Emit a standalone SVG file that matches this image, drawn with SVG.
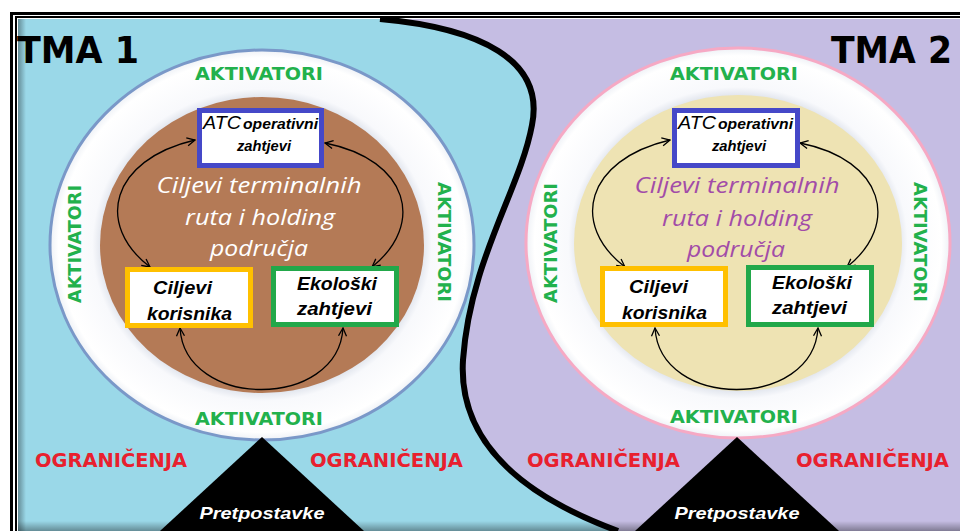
<svg xmlns="http://www.w3.org/2000/svg" width="960" height="531" viewBox="0 0 960 531">
<style>
.akt{font-family:"DejaVu Sans",sans-serif;font-weight:bold;font-size:18px;fill:#22B14C}
.ogr{font-family:"DejaVu Sans",sans-serif;font-weight:bold;font-size:19px;fill:#E8202E}
.tma{font-family:"DejaVu Sans",sans-serif;font-weight:bold;font-size:37px;fill:#000}
.box{fill:#fff;stroke-width:5}
.bt{font-family:"Liberation Sans",Arial,sans-serif;font-weight:bold;font-style:italic;font-size:18px;fill:#000}
.small{font-family:"Liberation Sans",Arial,sans-serif;font-weight:bold;font-style:italic;font-size:15px;fill:#000}
.atc{font-family:"Liberation Sans",Arial,sans-serif;font-style:italic;font-size:18px;fill:#000}
.ctr{font-family:"Open Sans","Liberation Sans",sans-serif;font-style:italic;font-size:22px}
.pre{font-family:"Liberation Sans",Arial,sans-serif;font-weight:bold;font-style:italic;font-size:17px;fill:#fff}
.con{fill:none;stroke:#000;stroke-width:1.3;marker-start:url(#ah);marker-end:url(#ah)}
</style>
<defs>
<marker id="ah" viewBox="0 0 10 10" refX="9" refY="5" markerWidth="10" markerHeight="10" markerUnits="userSpaceOnUse" orient="auto-start-reverse">
<path d="M1,1 L9,5 L1,9" fill="none" stroke="#000" stroke-width="1.3"/>
</marker>
<radialGradient id="ring">
<stop offset="0.74" stop-color="#D9DEE8"/>
<stop offset="0.80" stop-color="#F8F9FC"/>
<stop offset="0.96" stop-color="#FFFFFF"/>
<stop offset="1" stop-color="#EEF1F6"/>
</radialGradient>
<linearGradient id="shB" x1="0" y1="0" x2="0" y2="1">
<stop offset="0" stop-color="#000" stop-opacity="0"/>
<stop offset="1" stop-color="#000" stop-opacity="0.35"/>
</linearGradient>
<linearGradient id="shL" x1="0" y1="0" x2="1" y2="0">
<stop offset="0" stop-color="#000" stop-opacity="0.35"/>
<stop offset="1" stop-color="#000" stop-opacity="0"/>
</linearGradient>
</defs>

<g id="background">
<rect x="0" y="0" width="960" height="531" fill="#fff"/>
<rect x="18" y="19" width="942" height="512" fill="#C5BDE3"/>
<path d="M18,19 L380,19 C480,28 545,60 532,125 C520,190 470,260 463,360 C458,440 520,495 618,531 L18,531 Z" fill="#9AD8E8"/>
<rect x="18" y="521" width="942" height="10" fill="url(#shB)"/>
<rect x="18" y="19" width="8" height="512" fill="url(#shL)"/>
<path d="M380,19 C480,28 545,60 532,125 C520,190 470,260 463,360 C458,440 520,495 618,531" fill="none" stroke="#000" stroke-width="6"/>
<path d="M11.5,531 L11.5,13.5 L960,13.5" fill="none" stroke="#000" stroke-width="3"/>
<path d="M16,531 L16,17 L960,17" fill="none" stroke="#000" stroke-width="2"/>
</g>

<g id="tma1-label"><text class="tma" x="17" y="63" textLength="122" lengthAdjust="spacingAndGlyphs">TMA 1</text></g>
<g id="tma2-label"><text class="tma" x="831" y="63" textLength="121" lengthAdjust="spacingAndGlyphs">TMA 2</text></g>

<g id="tma1-ring">
<ellipse cx="262" cy="245" rx="212" ry="195" fill="url(#ring)" stroke="#7A98C8" stroke-width="3"/>
<ellipse cx="262" cy="245" rx="162" ry="148" fill="#B47A56"/>
</g>
<g id="tma2-ring">
<ellipse cx="738" cy="243" rx="212" ry="195" fill="url(#ring)" stroke="#F6A9C4" stroke-width="3"/>
<ellipse cx="738" cy="243" rx="164" ry="148" fill="#EEE3B3"/>
</g>

<g id="tma1-aktivatori">
<text class="akt" x="259" y="80" text-anchor="middle" textLength="128" lengthAdjust="spacingAndGlyphs">AKTIVATORI</text>
<text class="akt" x="259" y="425" text-anchor="middle" textLength="128" lengthAdjust="spacingAndGlyphs">AKTIVATORI</text>
<text class="akt" transform="translate(81,244) rotate(-90)" x="0" y="0" text-anchor="middle" textLength="118" lengthAdjust="spacingAndGlyphs">AKTIVATORI</text>
<text class="akt" transform="translate(438,242) rotate(90)" x="0" y="0" text-anchor="middle" textLength="120" lengthAdjust="spacingAndGlyphs">AKTIVATORI</text>
</g>
<g id="tma2-aktivatori">
<text class="akt" x="734" y="80" text-anchor="middle" textLength="128" lengthAdjust="spacingAndGlyphs">AKTIVATORI</text>
<text class="akt" x="734" y="423" text-anchor="middle" textLength="128" lengthAdjust="spacingAndGlyphs">AKTIVATORI</text>
<text class="akt" transform="translate(557,243) rotate(-90)" x="0" y="0" text-anchor="middle" textLength="120" lengthAdjust="spacingAndGlyphs">AKTIVATORI</text>
<text class="akt" transform="translate(914,242) rotate(90)" x="0" y="0" text-anchor="middle" textLength="120" lengthAdjust="spacingAndGlyphs">AKTIVATORI</text>
</g>

<g id="tma1-goal">
<text class="ctr" fill="#FFFFFF" x="259" y="193" text-anchor="middle" textLength="205" lengthAdjust="spacingAndGlyphs">Ciljevi terminalnih</text>
<text class="ctr" fill="#FFFFFF" x="260" y="225" text-anchor="middle" textLength="150" lengthAdjust="spacingAndGlyphs">ruta i holding</text>
<text class="ctr" fill="#FFFFFF" x="259" y="256" text-anchor="middle" textLength="98" lengthAdjust="spacingAndGlyphs">područja</text>
</g>
<g id="tma2-goal">
<text class="ctr" fill="#A24CA8" x="737" y="193" text-anchor="middle" textLength="205" lengthAdjust="spacingAndGlyphs">Ciljevi terminalnih</text>
<text class="ctr" fill="#A24CA8" x="737" y="226" text-anchor="middle" textLength="150" lengthAdjust="spacingAndGlyphs">ruta i holding</text>
<text class="ctr" fill="#A24CA8" x="736" y="257" text-anchor="middle" textLength="98" lengthAdjust="spacingAndGlyphs">područja</text>
</g>

<g id="connectors">
<path class="con" d="M195,140 C110,160 95,225 150,267"/>
<path class="con" d="M325,143 C410,160 425,225 372,267"/>
<path class="con" d="M180,328 C185,410 338,410 343,328"/>
<path class="con" d="M670,140 C585,160 570,225 625,267"/>
<path class="con" d="M800,143 C885,160 900,225 847,267"/>
<path class="con" d="M655,328 C660,410 813,410 818,328"/>
</g>

<g id="tma1-atc">
<rect class="box" x="199.5" y="110.5" width="122" height="55" stroke="#4548C8"/>
<text x="203" y="129"><tspan class="atc" textLength="38" lengthAdjust="spacingAndGlyphs">ATC</tspan><tspan class="small" x="243" textLength="75" lengthAdjust="spacingAndGlyphs">operativni</tspan></text>
<text class="small" x="237" y="151" textLength="54" lengthAdjust="spacingAndGlyphs">zahtjevi</text>
</g>
<g id="tma1-korisnici">
<rect class="box" x="127.5" y="269.5" width="123" height="56" stroke="#FFC000"/>
<text class="bt" x="153" y="294" textLength="59" lengthAdjust="spacingAndGlyphs">Ciljevi</text>
<text class="bt" x="147" y="320" textLength="85" lengthAdjust="spacingAndGlyphs">korisnika</text>
</g>
<g id="tma1-eko">
<rect class="box" x="273.5" y="268.5" width="123" height="56" stroke="#22A84A"/>
<text class="bt" x="297" y="290" textLength="80" lengthAdjust="spacingAndGlyphs">Ekološki</text>
<text class="bt" x="297" y="315" textLength="75" lengthAdjust="spacingAndGlyphs">zahtjevi</text>
</g>

<g id="tma2-atc">
<rect class="box" x="674.5" y="110.5" width="123" height="55" stroke="#4548C8"/>
<text x="678" y="129"><tspan class="atc" textLength="38" lengthAdjust="spacingAndGlyphs">ATC</tspan><tspan class="small" x="718" textLength="75" lengthAdjust="spacingAndGlyphs">operativni</tspan></text>
<text class="small" x="712" y="151" textLength="54" lengthAdjust="spacingAndGlyphs">zahtjevi</text>
</g>
<g id="tma2-korisnici">
<rect class="box" x="602.5" y="268.5" width="123" height="56" stroke="#FFC000"/>
<text class="bt" x="629" y="293" textLength="59" lengthAdjust="spacingAndGlyphs">Ciljevi</text>
<text class="bt" x="622" y="319" textLength="85" lengthAdjust="spacingAndGlyphs">korisnika</text>
</g>
<g id="tma2-eko">
<rect class="box" x="748.5" y="267.5" width="123" height="57" stroke="#22A84A"/>
<text class="bt" x="772" y="289" textLength="80" lengthAdjust="spacingAndGlyphs">Ekološki</text>
<text class="bt" x="772" y="314" textLength="75" lengthAdjust="spacingAndGlyphs">zahtjevi</text>
</g>

<g id="ogranicenja">
<text class="ogr" x="35" y="467" textLength="152" lengthAdjust="spacingAndGlyphs">OGRANIČENJA</text>
<text class="ogr" x="310" y="467" textLength="153" lengthAdjust="spacingAndGlyphs">OGRANIČENJA</text>
<text class="ogr" x="527" y="467" textLength="153" lengthAdjust="spacingAndGlyphs">OGRANIČENJA</text>
<text class="ogr" x="796" y="467" textLength="153" lengthAdjust="spacingAndGlyphs">OGRANIČENJA</text>
</g>

<g id="tma1-pretpostavke">
<polygon points="262,437 160,531 364,531" fill="#000"/>
<text class="pre" x="262" y="519" text-anchor="middle" textLength="125" lengthAdjust="spacingAndGlyphs">Pretpostavke</text>
</g>
<g id="tma2-pretpostavke">
<polygon points="737,437 635,531 839,531" fill="#000"/>
<text class="pre" x="737" y="519" text-anchor="middle" textLength="125" lengthAdjust="spacingAndGlyphs">Pretpostavke</text>
</g>
</svg>
